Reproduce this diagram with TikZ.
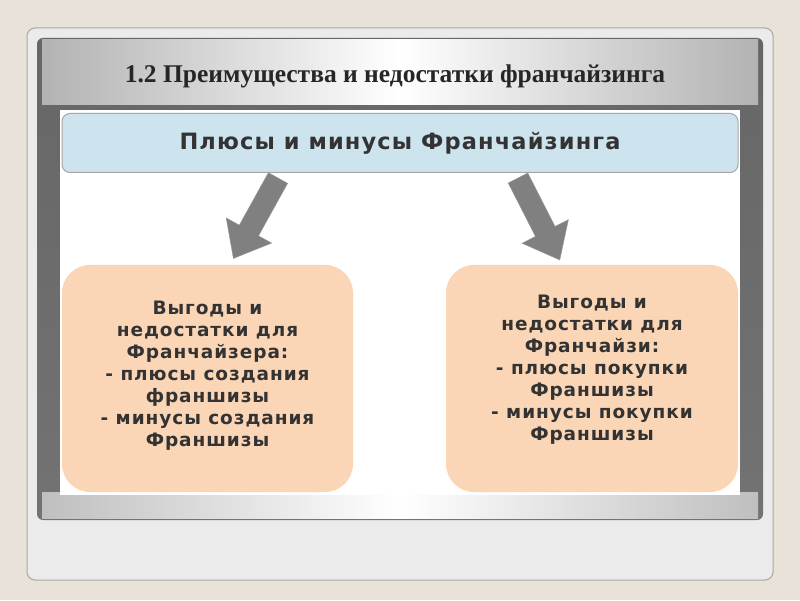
\documentclass[tikz,border=0pt]{standalone}
\usepackage{fontspec}
\setmainfont{Liberation Serif}
\newfontfamily\boxfont{DejaVu Sans}[LetterSpace=5]
\begin{document}
\begin{tikzpicture}[x=1pt,y=1pt,
  bx/.style={font=\boxfont\bfseries\fontsize{18.5}{22}\selectfont, text=black!80, align=center},
  peach/.style={draw=none, fill={rgb,255:red,251;green,214;blue,182}, rounded corners=28pt},
  arr/.style={fill=black!50, draw=black!40}]
\useasboundingbox (0,0) rectangle (800,600);
\fill[color={rgb,255:red,232;green,226;blue,216}] (0,0) rectangle (800,600);
\fill[black!8, draw=black!35, line width=1pt, rounded corners=8pt] (27,20) rectangle (773,572);
\shade[top color=black!60, bottom color=black!55, rounded corners=6pt] (37,80) rectangle (763,562);
\shade[left color=black!30, right color=black!30, middle color=white] (42,495) rectangle (758,560);
\shade[left color=black!25, right color=black!25, middle color=white] (42,82) rectangle (758,108);
\fill[white] (60,105) rectangle (740,490);
\node[font=\bfseries\fontsize{25.5}{28}\selectfont, text=black!85] (title) at (395,524) {1.2 Преимущества и недостатки франчайзинга};
\node[draw=black!35, line width=1pt, fill={rgb,255:red,205;green,228;blue,238}, rounded corners=8pt, minimum width=676pt, minimum height=59pt, bx, font=\boxfont\bfseries\fontsize{22.5}{24}\selectfont] (top) at (400,457) {Плюсы и минусы Франчайзинга};
\node[peach, minimum width=291pt, minimum height=227pt] (L) at (207.5,221.5) {};
\node[bx] (Lt) at ([yshift=3pt]L) {Выгоды и\\недостатки для\\Франчайзера:\\- плюсы создания\\франшизы\\- минусы создания\\Франшизы};
\node[peach, minimum width=292pt, minimum height=227pt] (R) at (592,221.5) {};
\node[bx] (Rt) at ([yshift=9pt]R) {Выгоды и\\недостатки для\\Франчайзи:\\- плюсы покупки\\Франшизы\\- минусы покупки\\Франшизы};
\begin{scope}[shift={(278,422)}, rotate=241]
\fill[arr] (0,-11) -- (60,-11) -- (60,-26) -- (92,0) -- (60,26) -- (60,11) -- (0,11) -- cycle;
\end{scope}
\begin{scope}[shift={(518,422)}, rotate=297]
\fill[arr] (0,-11) -- (60,-11) -- (60,-26) -- (92,0) -- (60,26) -- (60,11) -- (0,11) -- cycle;
\end{scope}
\end{tikzpicture}
\end{document}
